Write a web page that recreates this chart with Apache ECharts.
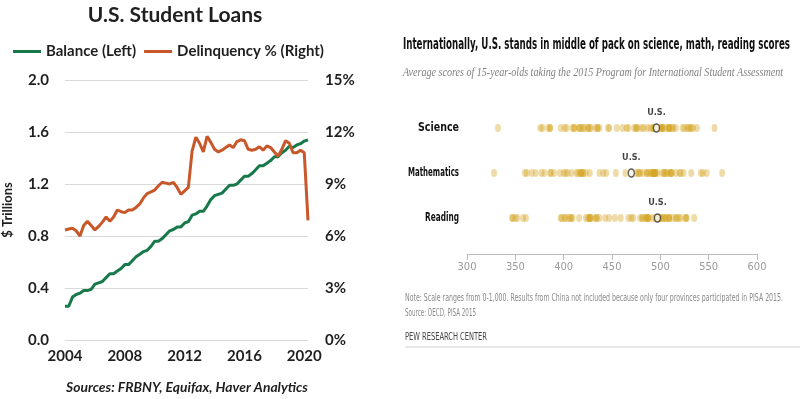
<!DOCTYPE html>
<html>
<head>
<meta charset="utf-8">
<script src="https://cdn.jsdelivr.net/npm/echarts@6/dist/echarts.min.js"></script>
<style>
  html, body { margin: 0; padding: 0; background: #fff; }
  #main { width: 800px; height: 399px; }
</style>
</head>
<body>
<div id="main"></div>
<script>
// ---- left panel: U.S. student loans, quarterly 2004 Q1 .. 2020 Q2
const firstYear = 2004;
const balance = [
  0.26, 0.26, 0.33, 0.35,  0.36, 0.38, 0.38, 0.39,  0.43, 0.44, 0.45, 0.48,
  0.51, 0.51, 0.53, 0.55,  0.58, 0.58, 0.61, 0.64,  0.66, 0.68, 0.69, 0.72,
  0.76, 0.76, 0.78, 0.81,  0.84, 0.85, 0.87, 0.87,  0.90, 0.91, 0.96, 0.97,
  0.99, 0.99, 1.03, 1.08,  1.11, 1.12, 1.13, 1.16,  1.19, 1.19, 1.20, 1.23,
  1.26, 1.26, 1.28, 1.31,  1.34, 1.34, 1.36, 1.38,  1.41, 1.41, 1.44, 1.46,
  1.49, 1.48, 1.50, 1.51,  1.53, 1.54
];
const delinquency = [
  6.35, 6.4, 6.45, 6.3,   6.0, 6.6, 6.85, 6.6,    6.35, 6.55, 6.8, 7.1,
  6.85, 7.1, 7.5, 7.4,    7.35, 7.5, 7.5, 7.65,   7.85, 8.2, 8.45, 8.55,
  8.65, 8.9, 9.1, 9.05,   9.0, 9.1, 8.8, 8.4,     8.6, 8.8, 10.9, 11.7,
  11.35, 10.85, 11.75, 11.4,  11.0, 10.85, 10.95, 11.1,  11.25, 11.1, 11.45, 11.55,
  11.5, 11.0, 10.95, 11.0,  11.15, 10.95, 11.2, 11.1,  10.85, 10.6, 11.0, 11.5,
  11.35, 10.8, 10.8, 10.95,  10.8, 6.9
];
const yearTicks = [2004, 2008, 2012, 2016, 2020];

// ---- right panel: PISA 2015 average scores
const subjects = ['Science', 'Mathematics', 'Reading'];
const scienceScores = [
  556, 538, 534, 532, 531, 529, 528, 525, 523, 516, 513, 513, 510, 509, 509, 509,
  506, 503, 502, 502, 501, 501, 498, 495, 495, 493, 493, 493, 490, 487, 483, 481,
  477, 475, 475, 473, 467, 465, 461, 455, 447, 446, 437, 435, 435, 433, 428, 427,
  425, 425, 421, 420, 418, 416, 416, 411, 411, 409, 403, 401, 397, 386, 386, 384,
  378, 376, 332
];
const mathScores = [
  564, 548, 544, 542, 532, 524, 521, 520, 516, 512, 511, 511, 510, 507, 506, 504,
  504, 502, 497, 495, 495, 494, 494, 494, 493, 492, 492, 492, 490, 488, 486, 486,
  482, 479, 478, 477, 475, 470, 464, 454, 444, 441, 437, 427, 423, 420, 420, 418,
  418, 417, 415, 413, 408, 404, 402, 400, 396, 390, 387, 386, 380, 377, 371, 367,
  362, 360, 328
];
const readingScores = [
  535, 527, 527, 526, 521, 519, 517, 516, 513, 509, 509, 509, 506, 505, 503, 503,
  500, 500, 499, 499, 498, 498, 497, 496, 495, 492, 488, 487, 487, 487, 485, 485,
  482, 481, 479, 472, 470, 467, 459, 453, 447, 443, 437, 434, 434, 432, 428, 427,
  427, 427, 425, 423, 416, 409, 408, 407, 405, 402, 401, 398, 397, 361, 358, 352,
  350, 347, 347
];
const usScores = [496, 470, 497];
const scoreTicks = [300, 350, 400, 450, 500, 550, 600];

const green = '#17794a';
const orange = '#c8582a';
const dark = '#1f1f1f';
const narrow = '"Liberation Sans Narrow", "DejaVu Sans Condensed", "Roboto", sans-serif';
const serif = '"Liberation Serif", "DejaVu Serif", serif';

// squeeze a text horizontally so it spans the given width
const measureCtx = document.createElement('canvas').getContext('2d');
function fitText(text, x, y, size, weight, family, color, width, italic, align) {
  measureCtx.font = (italic ? 'italic ' : '') + weight + ' ' + size + 'px ' + family;
  const w = measureCtx.measureText(text).width;
  return {
    type: 'text',
    x: x,
    y: y,
    scaleX: width / w,
    silent: true,
    style: {
      text: text,
      fontSize: size,
      fontWeight: weight,
      fontStyle: italic ? 'italic' : 'normal',
      fontFamily: family,
      fill: color,
      align: align || 'left',
      verticalAlign: 'middle'
    }
  };
}

const chart = echarts.init(document.getElementById('main'));

// row labels of the PISA panel (drawn narrow, like the original)
const rowLabelWidths = [41, 51, 34];
const rowLabelY = [128, 173, 218];

const option = {
  backgroundColor: '#fff',
  animation: false,
  legend: {
    data: ['Balance (Left)', 'Delinquency % (Right)'],
    left: 8,
    top: 39,
    itemWidth: 28,
    itemHeight: 3,
    itemGap: 8,
    icon: 'rect',
    textStyle: { fontFamily: 'Lato', fontWeight: 'bold', fontSize: 15, color: dark }
  },
  grid: [
    { left: 63, top: 80, width: 245, height: 260 },
    { left: 467, top: 105.5, width: 290, height: 135 }
  ],
  xAxis: [
    {
      type: 'value', gridIndex: 0, min: 2004, max: 2020.25, interval: 4,
      showMaxLabel: false,
      axisLine: { show: false }, axisTick: { show: false }, splitLine: { show: false },
      axisLabel: {
        margin: 9, fontFamily: 'Lato', fontWeight: 'bold', fontSize: 15, color: dark,
        formatter: v => (yearTicks.includes(v) ? String(v) : '')
      }
    },
    {
      type: 'value', gridIndex: 1, min: 300, max: 600, interval: 50,
      offset: 13.5,
      axisLine: { show: true, lineStyle: { color: '#bdbdbd', width: 1 } },
      axisTick: { show: true, length: 6, lineStyle: { color: '#bdbdbd' } },
      splitLine: { show: false },
      axisLabel: {
        margin: 8, fontFamily: narrow, fontSize: 11, color: '#9a9a9a',
        formatter: v => (scoreTicks.includes(v) ? String(v) : '')
      }
    }
  ],
  yAxis: [
    {
      type: 'value', gridIndex: 0, min: 0, max: 2, interval: 0.4,
      name: '$ Trillions', nameLocation: 'middle', nameGap: 51,
      nameTextStyle: { fontFamily: 'Lato', fontWeight: 'bold', fontSize: 13, color: dark },
      axisLine: { show: false }, axisTick: { show: false },
      splitLine: { lineStyle: { color: '#d9d9d9', width: 1 } },
      axisLabel: {
        margin: 16, fontFamily: 'Lato', fontWeight: 'bold', fontSize: 15, color: dark,
        formatter: v => v.toFixed(1)
      }
    },
    {
      type: 'value', gridIndex: 0, min: 0, max: 15, interval: 3, position: 'right',
      axisLine: { show: false }, axisTick: { show: false }, splitLine: { show: false },
      axisLabel: {
        margin: 17, fontFamily: 'Lato', fontWeight: 'bold', fontSize: 15, color: dark,
        formatter: v => v + '%'
      }
    },
    {
      type: 'category', gridIndex: 1, data: subjects, inverse: true,
      axisLine: { show: false }, axisTick: { show: false }, splitLine: { show: false },
      axisLabel: { show: false }
    }
  ],
  series: [
    {
      name: 'Balance (Left)', type: 'line', xAxisIndex: 0, yAxisIndex: 0,
      symbol: 'none', color: green, lineStyle: { width: 3, color: green },
      data: balance.map((v, i) => [firstYear + i / 4, v])
    },
    {
      name: 'Delinquency % (Right)', type: 'line', xAxisIndex: 0, yAxisIndex: 1,
      symbol: 'none', color: orange, lineStyle: { width: 3, color: orange },
      data: delinquency.map((v, i) => [firstYear + i / 4, v])
    },
    {
      name: 'Countries', type: 'scatter', xAxisIndex: 1, yAxisIndex: 2,
      symbol: 'circle', symbolSize: [6, 8],
      itemStyle: { color: 'rgba(212, 164, 34, 0.5)' },
      data: [].concat(
        scienceScores.map(v => [v, 'Science']),
        mathScores.map(v => [v, 'Mathematics']),
        readingScores.map(v => [v, 'Reading'])
      )
    },
    {
      name: 'U.S.', type: 'scatter', xAxisIndex: 1, yAxisIndex: 2,
      symbol: 'circle', symbolSize: [6, 8], z: 5,
      itemStyle: { color: '#fff', borderColor: '#333', borderWidth: 1.5 },
      label: {
        show: true, position: 'top', distance: 6, formatter: 'U.S.',
        fontFamily: narrow, fontWeight: 'bold', fontSize: 9, color: '#111'
      },
      data: usScores.map((v, i) => [v, subjects[i]])
    }
  ],
  graphic: [
    {
      type: 'text', x: 175, y: 15, silent: true,
      style: {
        text: 'U.S. Student Loans', fontFamily: 'Lato', fontWeight: 'bold', fontSize: 21,
        fill: dark, align: 'center', verticalAlign: 'middle'
      }
    },
    fitText('Sources: FRBNY, Equifax, Haver Analytics', 66, 388, 13, 'bold', 'Lato', dark, 242, true),
    fitText('Internationally, U.S. stands in middle of pack on science, math, reading scores',
      403, 45, 15, 'bold', narrow, '#111', 387),
    fitText('Average scores of 15-year-olds taking the 2015 Program for International Student Assessment',
      403, 73, 11.5, 'normal', serif, '#808080', 380, true),
    fitText('Note: Scale ranges from 0-1,000. Results from China not included because only four provinces participated in PISA 2015.',
      405, 298, 10, 'normal', narrow, '#8a8a8a', 378),
    fitText('Source: OECD, PISA 2015', 405, 313, 10, 'normal', narrow, '#8a8a8a', 71),
    fitText('PEW RESEARCH CENTER', 405, 337, 10, 'normal', narrow, '#444', 82),
    {
      type: 'line', silent: true,
      shape: { x1: 405, y1: 347, x2: 800, y2: 347 },
      style: { stroke: '#cfcfcf', lineWidth: 1 }
    }
  ].concat(subjects.map((s, i) =>
    fitText(s, 459, rowLabelY[i], 12.5, 'bold', narrow, '#111', rowLabelWidths[i], false, 'right')
  ))
};

chart.setOption(option);
</script>
</body>
</html>
